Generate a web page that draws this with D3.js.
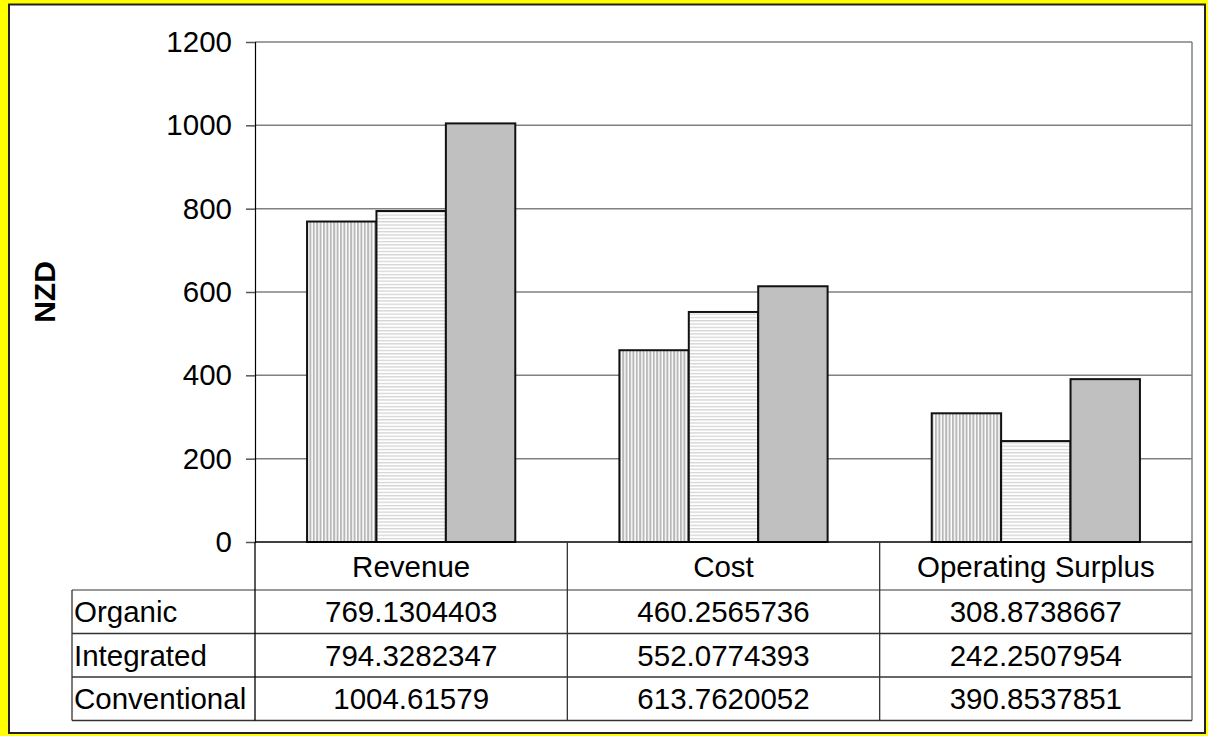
<!DOCTYPE html>
<html>
  <head>
    <meta charset="utf-8" />
    <title>NZD by system</title>
    <script src="https://d3js.org/d3.v7.min.js"></script>
    <style>
      html,
      body {
        margin: 0;
        padding: 0;
        background-color: #ffff00;
        font-family: "Liberation Sans", Arial, sans-serif;
      }
    </style>
  </head>
  <body>
    <svg id="chart"></svg>
    <script>
      // data
      const categories = ["Revenue", "Cost", "Operating Surplus"];
      const seriesNames = ["Organic", "Integrated", "Conventional"];
      const organic = [769.1304403, 460.2565736, 308.8738667];
      const integrated = [794.3282347, 552.0774393, 242.2507954];
      const conventional = [1004.61579, 613.7620052, 390.8537851];
      const yTicks = [0, 200, 400, 600, 800, 1000, 1200];

      const seriesValues = [organic, integrated, conventional];

      // svg size
      const width = 1208;
      const height = 736;

      // plot area
      const plotLeft = 255;
      const plotRight = 1192;
      const plotTop = 42;
      const plotBottom = 542;

      // table
      const tableLeft = 72;
      const headerBottom = 590;
      const rowH = 43.5;
      const fontSize = 29.5;

      const svg = d3
        .select("#chart")
        .attr("width", width)
        .attr("height", height)
        .style("display", "block");

      // yellow frame + white chart area
      svg
        .append("rect")
        .attr("width", width)
        .attr("height", height)
        .attr("fill", "#ffff00");
      svg
        .append("rect")
        .attr("x", 9)
        .attr("y", 4.5)
        .attr("width", 1196)
        .attr("height", 728.5)
        .attr("fill", "white")
        .attr("stroke", "#222")
        .attr("stroke-width", 2);

      // patterns
      const defs = svg.append("defs");
      const vert = defs
        .append("pattern")
        .attr("id", "vstripe")
        .attr("patternUnits", "userSpaceOnUse")
        .attr("width", 3.4)
        .attr("height", 10);
      vert.append("rect").attr("width", 3.4).attr("height", 10).attr("fill", "white");
      vert.append("rect").attr("width", 2).attr("height", 10).attr("fill", "#b8b8b8");

      const horiz = defs
        .append("pattern")
        .attr("id", "hstripe")
        .attr("patternUnits", "userSpaceOnUse")
        .attr("width", 10)
        .attr("height", 3.3);
      horiz.append("rect").attr("width", 10).attr("height", 3.3).attr("fill", "white");
      horiz.append("rect").attr("width", 10).attr("height", 1.3).attr("fill", "#d4d4d4");

      const fills = ["url(#vstripe)", "url(#hstripe)", "#c0c0c0"];

      // scales
      const xScale = d3.scaleBand().domain(categories).range([plotLeft, plotRight]);
      const bw = xScale.bandwidth();
      const barW = bw / 4.5;
      const xInner = d3
        .scaleBand()
        .domain(seriesNames)
        .range([barW * 0.75, barW * 3.75]);
      const yScale = d3.scaleLinear().domain([0, 1200]).range([plotBottom, plotTop]);

      // gridlines
      svg
        .append("g")
        .selectAll("line")
        .data(yTicks.filter((d) => d > 0))
        .join("line")
        .attr("x1", plotLeft)
        .attr("x2", plotRight)
        .attr("y1", (d) => yScale(d))
        .attr("y2", (d) => yScale(d))
        .attr("stroke", "#808080")
        .attr("stroke-width", 1.5);

      // plot right border
      svg
        .append("line")
        .attr("x1", plotRight)
        .attr("x2", plotRight)
        .attr("y1", plotTop)
        .attr("y2", plotBottom)
        .attr("stroke", "#808080")
        .attr("stroke-width", 1.5);

      // y axis
      const yAxis = d3
        .axisLeft(yScale)
        .tickValues(yTicks)
        .tickFormat(d3.format("d"))
        .tickSize(9)
        .tickPadding(14);
      const yG = svg
        .append("g")
        .attr("transform", `translate(${plotLeft},0)`)
        .call(yAxis);
      yG.select(".domain").attr("stroke", "black").attr("stroke-width", 1.2);
      yG.selectAll(".tick line").attr("stroke", "#555").attr("stroke-width", 1.5);
      yG.selectAll(".tick text")
        .attr("font-size", fontSize)
        .attr("font-family", "Liberation Sans, Arial, sans-serif")
        .attr("fill", "black");

      // bars
      seriesNames.forEach((s, si) => {
        svg
          .append("g")
          .selectAll("rect")
          .data(seriesValues[si])
          .join("rect")
          .attr("x", (d, i) => xScale(categories[i]) + xInner(s))
          .attr("y", (d) => yScale(d))
          .attr("width", xInner.bandwidth())
          .attr("height", (d) => plotBottom - yScale(d))
          .attr("fill", fills[si])
          .attr("stroke", "#111")
          .attr("stroke-width", 2);
      });

      // table lines
      const tableBottom = headerBottom + rowH * 3;
      const lines = svg.append("g").attr("stroke", "#333").attr("stroke-width", 1.3);
      // bottom axis line
      lines
        .append("line")
        .attr("x1", plotLeft)
        .attr("x2", plotRight)
        .attr("y1", plotBottom)
        .attr("y2", plotBottom)
        .attr("stroke", "black")
        .attr("stroke-width", 1.5);
      // horizontal row lines
      [0, 1, 2, 3].forEach((r) => {
        lines
          .append("line")
          .attr("x1", tableLeft)
          .attr("x2", plotRight)
          .attr("y1", headerBottom + r * rowH)
          .attr("y2", headerBottom + r * rowH)
          .attr("stroke", r === 0 ? "#777" : "#333");
      });
      // vertical lines
      lines
        .append("line")
        .attr("x1", tableLeft)
        .attr("x2", tableLeft)
        .attr("y1", headerBottom)
        .attr("y2", tableBottom);
      categories.forEach((c) => {
        lines
          .append("line")
          .attr("x1", xScale(c))
          .attr("x2", xScale(c))
          .attr("y1", plotBottom)
          .attr("y2", tableBottom)
          .attr("stroke", xScale(c) === plotLeft ? "black" : "#333");
      });
      lines
        .append("line")
        .attr("x1", plotRight)
        .attr("x2", plotRight)
        .attr("y1", plotBottom)
        .attr("y2", tableBottom)
        .attr("stroke", "#666");

      // table text
      const txt = svg
        .append("g")
        .attr("font-size", fontSize)
        .attr("fill", "black");
      txt
        .selectAll(".hdr")
        .data(categories)
        .join("text")
        .attr("x", (d) => xScale(d) + bw / 2)
        .attr("y", (plotBottom + headerBottom) / 2)
        .attr("dy", "0.36em")
        .attr("text-anchor", "middle")
        .text((d) => d);

      seriesNames.forEach((s, si) => {
        const cy = headerBottom + rowH * si + rowH / 2;
        txt
          .append("text")
          .attr("x", tableLeft + 2)
          .attr("y", cy)
          .attr("dy", "0.36em")
          .text(s);
        txt
          .append("g")
          .selectAll("text")
          .data(seriesValues[si])
          .join("text")
          .attr("x", (d, i) => xScale(categories[i]) + bw / 2)
          .attr("y", cy)
          .attr("dy", "0.36em")
          .attr("text-anchor", "middle")
          .text((d) => String(d));
      });

      // y axis title
      svg
        .append("text")
        .attr("transform", `translate(44,${(plotTop + plotBottom) / 2}) rotate(-90)`)
        .attr("text-anchor", "middle")
        .attr("dy", "0.36em")
        .attr("font-size", 30)
        .attr("font-weight", "bold")
        .text("NZD");
    </script>
  </body>
</html>
